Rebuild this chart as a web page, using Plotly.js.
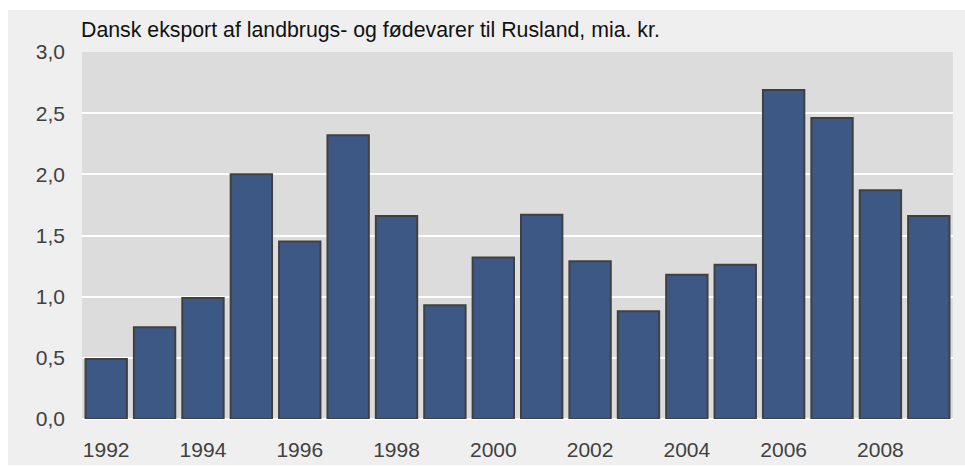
<!DOCTYPE html>
<html>
<head>
<meta charset="utf-8">
<script src="https://cdn.plot.ly/plotly-3.0.1.min.js"></script>
<style>
html, body { margin: 0; padding: 0; background: #ffffff; }
#wrap { position: absolute; left: 8px; top: 10px; width: 957px; height: 455px; background: #efefef; }
#chart { width: 957px; height: 455px; }
</style>
</head>
<body>
<div id="wrap"><div id="chart"></div></div>
<script>
const years = ["1992","1993","1994","1995","1996","1997","1998","1999","2000","2001","2002","2003","2004","2005","2006","2007","2008","2009"];
const exportValues = [0.49, 0.75, 0.99, 2.00, 1.45, 2.32, 1.66, 0.93, 1.32, 1.67, 1.29, 0.88, 1.18, 1.26, 2.69, 2.46, 1.87, 1.66];
const xTickLabels = ["1992","1994","1996","1998","2000","2002","2004","2006","2008"];
const yTickValues = [0, 0.5, 1, 1.5, 2, 2.5, 3];
const chartTitle = "Dansk eksport af landbrugs- og fødevarer til Rusland, mia. kr.";

const trace = {
  type: 'bar',
  x: years,
  y: exportValues,
  marker: { color: '#3e5886', line: { color: '#404040', width: 2 } },
  hoverinfo: 'x+y'
};

const layout = {
  width: 957,
  height: 455,
  margin: { l: 74, r: 12, t: 42, b: 46 },
  paper_bgcolor: '#efefef',
  plot_bgcolor: '#dcdcdc',
  separators: ',.',
  bargap: 0.145,
  showlegend: false,
  font: { family: 'Liberation Sans, Arial, sans-serif', size: 21, color: '#404040' },
  xaxis: {
    type: 'category',
    tickmode: 'array',
    tickvals: xTickLabels,
    ticktext: xTickLabels,
    showgrid: false,
    zeroline: false,
    showline: false,
    ticks: '',
    ticklabelstandoff: 16,
    tickfont: { size: 21, color: '#404040' },
    range: [-0.5, years.length - 0.5]
  },
  yaxis: {
    range: [0, 3],
    tickvals: yTickValues,
    tickformat: '.1f',
    showgrid: true,
    gridcolor: '#ffffff',
    gridwidth: 2,
    zeroline: true,
    zerolinecolor: '#ffffff',
    zerolinewidth: 2,
    showline: false,
    ticks: '',
    ticklabelstandoff: 16,
    tickfont: { size: 21, color: '#404040' }
  },
  annotations: [{
    text: chartTitle,
    xref: 'paper', yref: 'paper',
    x: -0.003, y: 1,
    xanchor: 'left', yanchor: 'bottom',
    yshift: 8,
    showarrow: false,
    font: { family: 'Liberation Sans, Arial, sans-serif', size: 21.3, color: '#111111' }
  }]
};

Plotly.newPlot('chart', [trace], layout, { displayModeBar: false, staticPlot: true });
</script>
</body>
</html>
